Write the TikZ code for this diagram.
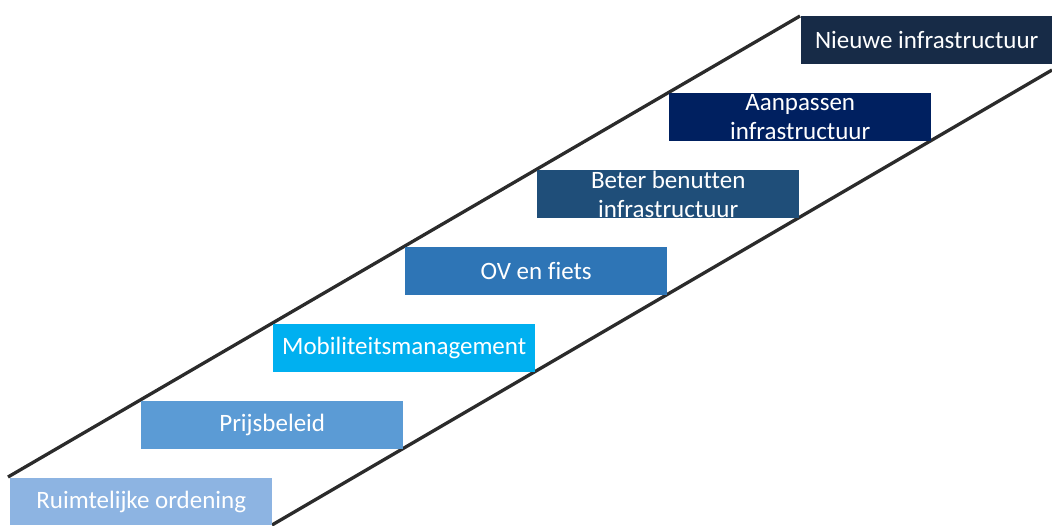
\documentclass[tikz,border=0pt]{standalone}
\usepackage{fontspec}
\setmainfont[Ligatures=NoCommon]{Carlito}
\definecolor{cRuimte}{HTML}{8DB4E2}
\definecolor{cPrijs}{HTML}{5B9BD5}
\definecolor{cMobi}{HTML}{00B0F0}
\definecolor{cOV}{HTML}{2E75B6}
\definecolor{cBeter}{HTML}{1F4E79}
\definecolor{cAanp}{HTML}{002060}
\definecolor{cNieuw}{HTML}{172B47}
\definecolor{cLine}{HTML}{2B2B2B}
\begin{document}
\begin{tikzpicture}[x=1pt,y=-1pt,
  stepbox/.style={rectangle, anchor=north west, minimum width=262pt, minimum height=48pt,
    inner sep=0pt, text=white, align=center,
    font=\fontsize{25}{29}\selectfont},
  rail/.style={draw=cLine, line width=3.3pt}]
\useasboundingbox (0,0) rectangle (1052,525);
\coordinate (u1) at (8,477);
\coordinate (u2) at (800,16);
\coordinate (l1) at (272,525);
\coordinate (l2) at (1052,70);
\draw[rail] (u1) -- (u2);
\draw[rail] (l1) -- (l2);
\node[stepbox, fill=cRuimte, minimum height=47pt] (b1) at (10,478) {Ruimtelijke ordening};
\node[stepbox, fill=cPrijs] (b2) at (141,401) {Prijsbeleid};
\node[stepbox, fill=cMobi] (b3) at (273,324) {Mobiliteitsmanagement};
\node[stepbox, fill=cOV] (b4) at (405,247) {OV en fiets};
\node[stepbox, fill=cBeter] (b5) at (537,170) {Beter benutten\\infrastructuur};
\node[stepbox, fill=cAanp] (b6) at (669,93) {Aanpassen\\infrastructuur};
\node[stepbox, fill=cNieuw, minimum width=251pt] (b7) at (801,16) {Nieuwe infrastructuur};
\end{tikzpicture}
\end{document}
